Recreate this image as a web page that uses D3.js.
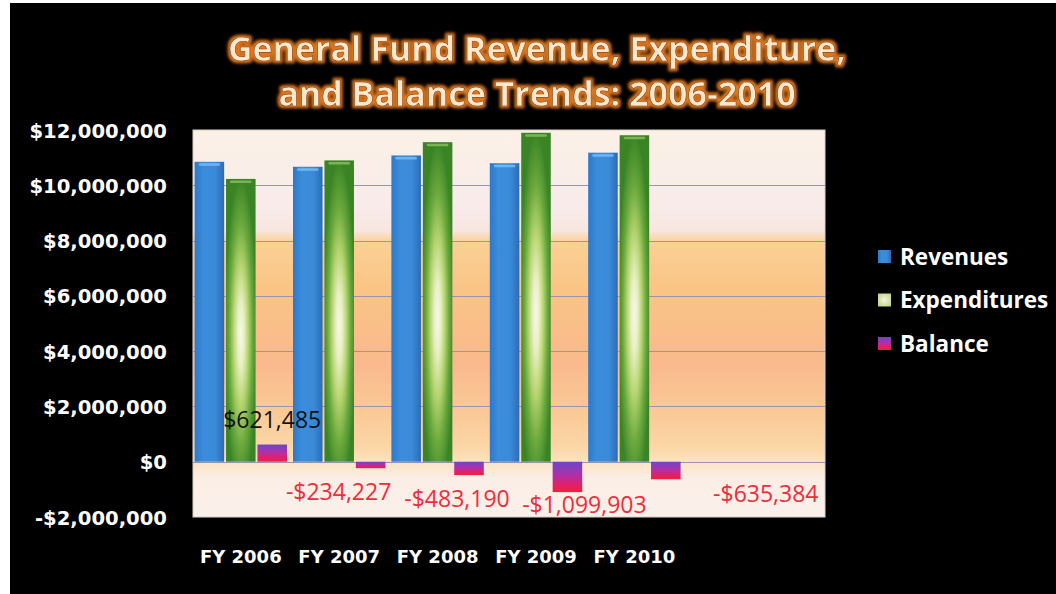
<!DOCTYPE html>
<html>
<head>
<meta charset="utf-8">
<script src="https://cdn.jsdelivr.net/npm/d3@7"></script>
<style>
  html, body { margin: 0; padding: 0; background: #ffffff; }
  svg { display: block; }
</style>
</head>
<body>
<svg id="chart" width="1056" height="594"></svg>
<script>
// ---- data ----
const categories = ["FY 2006", "FY 2007", "FY 2008", "FY 2009", "FY 2010"];
const seriesNames = ["Revenues", "Expenditures", "Balance"];
const revenues = [10850000, 10670000, 11080000, 10800000, 11180000];
const expenditures = [10230000, 10900000, 11560000, 11900000, 11810000];
const balance = [621485, -234227, -483190, -1099903, -635384];
const yTicks = [-2000000, 0, 2000000, 4000000, 6000000, 8000000, 10000000, 12000000];
const titleLines = ["General Fund Revenue, Expenditure,", "and Balance Trends: 2006-2010"];

// ---- layout ----
const W = 1056, H = 594;
const plot = { left: 193, right: 825, top: 130, bottom: 517 };
const labelLayout = [
  { dx: 0, y: 428 },   // offset from balance bar centre / absolute baseline
  { dx: -32, y: 500 },
  { dx: -12, y: 507 },
  { dx: 17, y: 513 },
  { dx: 100, y: 502 }
];

const svg = d3.select("#chart");
const defs = svg.append("defs");

// black frame
svg.append("rect").attr("x", 10).attr("y", 3).attr("width", W - 10).attr("height", H - 3).attr("fill", "#000");

// gradients
const bg = defs.append("linearGradient").attr("id", "bgGrad").attr("x1", 0).attr("y1", 0).attr("x2", 0).attr("y2", 1);
[[0, "#fbf1e6"], [0.2, "#f8ebea"], [0.26, "#f8e6e0"], [0.29, "#fbd094"], [0.42, "#f9c486"], [0.6, "#f9b98c"], [0.72, "#fbc896"], [0.82, "#fbd6a6"], [0.86, "#fbe4c4"], [0.9, "#fbeee6"], [1, "#faf0ea"]]
  .forEach(([o, c]) => bg.append("stop").attr("offset", o).attr("stop-color", c));

const blueG = defs.append("linearGradient").attr("id", "blueGrad").attr("x1", 0).attr("y1", 0).attr("x2", 1).attr("y2", 0);
[[0, "#2f78c8"], [0.3, "#3b8ddc"], [0.7, "#3a8ad8"], [1, "#2a6cb8"]]
  .forEach(([o, c]) => blueG.append("stop").attr("offset", o).attr("stop-color", c));

const greenG = defs.append("radialGradient").attr("id", "greenGrad").attr("cx", 0.5).attr("cy", 0.55).attr("r", 0.55).attr("fx", 0.5).attr("fy", 0.55);
[[0, "#f6f8e8"], [0.2, "#e8f0c4"], [0.45, "#b6d470"], [0.72, "#6aa83c"], [1, "#3a8426"]]
  .forEach(([o, c]) => greenG.append("stop").attr("offset", o).attr("stop-color", c));

const balG = defs.append("linearGradient").attr("id", "balGrad").attr("x1", 0).attr("y1", 0).attr("x2", 0).attr("y2", 1);
[[0, "#6a48c8"], [0.45, "#b030a8"], [0.75, "#e0206a"], [1, "#f0203c"]]
  .forEach(([o, c]) => balG.append("stop").attr("offset", o).attr("stop-color", c));

const legGreen = defs.append("radialGradient").attr("id", "legGreen").attr("cx", 0.5).attr("cy", 0.5).attr("r", 0.7);
[[0, "#f4f6dc"], [1, "#b8d080"]].forEach(([o, c]) => legGreen.append("stop").attr("offset", o).attr("stop-color", c));

// title glow filter
const f = defs.append("filter").attr("id", "glow").attr("x", "-10%").attr("y", "-40%").attr("width", "120%").attr("height", "180%");
f.append("feMorphology").attr("in", "SourceAlpha").attr("operator", "dilate").attr("radius", 2).attr("result", "d");
f.append("feGaussianBlur").attr("in", "d").attr("stdDeviation", 1.6).attr("result", "b");
f.append("feFlood").attr("flood-color", "#e2781c").attr("result", "c");
f.append("feComposite").attr("in", "c").attr("in2", "b").attr("operator", "in").attr("result", "g");
const fm = f.append("feMerge");
fm.append("feMergeNode").attr("in", "g");
fm.append("feMergeNode").attr("in", "SourceGraphic");

// scales
const y = d3.scaleLinear().domain([-2000000, 12000000]).range([plot.bottom, plot.top]);
const x0 = d3.scaleBand().domain(categories).range([191.6, 191.6 + 98.4 * categories.length]).paddingInner(0).paddingOuter(0);
const x1 = d3.scaleBand().domain(seriesNames).range([3, x0.bandwidth() - 3]).paddingInner(0.06).paddingOuter(0);

// plot background
svg.append("rect").attr("x", plot.left).attr("y", plot.top)
  .attr("width", plot.right - plot.left).attr("height", plot.bottom - plot.top)
  .attr("fill", "url(#bgGrad)").attr("stroke", "#d8d0c8").attr("stroke-width", 1);

// gridlines
svg.append("g").selectAll("line").data(yTicks.filter(t => t > -2000000 && t < 12000000)).join("line")
  .attr("x1", plot.left).attr("x2", plot.right)
  .attr("y1", d => Math.round(y(d)) + 0.5).attr("y2", d => Math.round(y(d)) + 0.5)
  .attr("stroke", "#9a94b4").attr("stroke-width", 1);

// y axis
const fmt = d => (d < 0 ? "-$" : "$") + d3.format(",")(Math.abs(d));
const yAxis = svg.append("g").attr("transform", `translate(${plot.left},0)`)
  .call(d3.axisLeft(y).tickValues(yTicks).tickFormat(fmt).tickSize(0).tickPadding(26));
yAxis.select(".domain").remove();
yAxis.selectAll("text").attr("fill", "#fff").attr("font-family", "'DejaVu Sans', sans-serif")
  .attr("font-weight", 700).attr("font-size", 19.6).attr("dy", "0.36em");

// x axis
const xAxis = svg.append("g").attr("transform", `translate(0,${plot.bottom})`)
  .call(d3.axisBottom(x0).tickSize(0).tickPadding(33));
xAxis.select(".domain").remove();
xAxis.selectAll("text").attr("fill", "#fff").attr("font-family", "'DejaVu Sans', sans-serif")
  .attr("font-weight", 700).attr("font-size", 18);

// bars
const rows = categories.map((c, i) => ({ cat: c, vals: [revenues[i], expenditures[i], balance[i]] }));
const fills = ["url(#blueGrad)", "url(#greenGrad)", "url(#balGrad)"];
const groups = svg.append("g").selectAll("g").data(rows).join("g")
  .attr("transform", d => `translate(${x0(d.cat)},0)`);
groups.selectAll("rect").data(d => d.vals.map((v, k) => ({ v, k }))).join("rect")
  .attr("x", d => x1(seriesNames[d.k]))
  .attr("width", x1.bandwidth())
  .attr("y", d => y(Math.max(0, d.v)))
  .attr("height", d => Math.abs(y(d.v) - y(0)))
  .attr("fill", d => fills[d.k]);
// top highlight on revenue / expenditure bars
groups.selectAll("rect.hl").data(d => d.vals.slice(0, 2).map((v, k) => ({ v, k }))).join("rect")
  .attr("class", "hl")
  .attr("x", d => x1(seriesNames[d.k]) + 4)
  .attr("width", x1.bandwidth() - 8)
  .attr("y", d => y(d.v) + 1.5)
  .attr("height", 2.5)
  .attr("rx", 1.2)
  .attr("fill", d => d.k === 0 ? "#7cc0f4" : "#8cc060")
  .attr("opacity", 0.8);

// data labels
svg.append("g").selectAll("text").data(balance).join("text")
  .attr("x", (d, i) => x0(categories[i]) + x1("Balance") + x1.bandwidth() / 2 + labelLayout[i].dx)
  .attr("y", (d, i) => labelLayout[i].y)
  .attr("text-anchor", "middle")
  .attr("font-family", "'Open Sans', sans-serif")
  .attr("font-size", 23)
  .attr("fill", d => d < 0 ? "#f02c3a" : "#111")
  .text(fmt);

// title
svg.append("g").selectAll("text").data(titleLines).join("text")
  .attr("x", 537).attr("y", (d, i) => 61 + i * 45)
  .attr("text-anchor", "middle")
  .attr("font-family", "'Open Sans', sans-serif")
  .attr("font-weight", 700).attr("font-size", 34)
  .attr("fill", "#fde8cc")
  .attr("stroke", "#7a3a10").attr("stroke-width", 0.6)
  .attr("filter", "url(#glow)")
  .text(d => d);

// legend
const legColors = ["url(#blueGrad)", "url(#legGreen)", "url(#balGrad)"];
const leg = svg.append("g").selectAll("g").data(seriesNames).join("g")
  .attr("transform", (d, i) => `translate(878,${250 + i * 43.5})`);
leg.append("rect").attr("width", 13).attr("height", 13).attr("fill", (d, i) => legColors[i]);
leg.append("text").attr("x", 22).attr("y", 14.5)
  .attr("fill", "#fff").attr("font-family", "'Open Sans', sans-serif")
  .attr("font-weight", 700).attr("font-size", 22.5)
  .text(d => d);
</script>
</body>
</html>
